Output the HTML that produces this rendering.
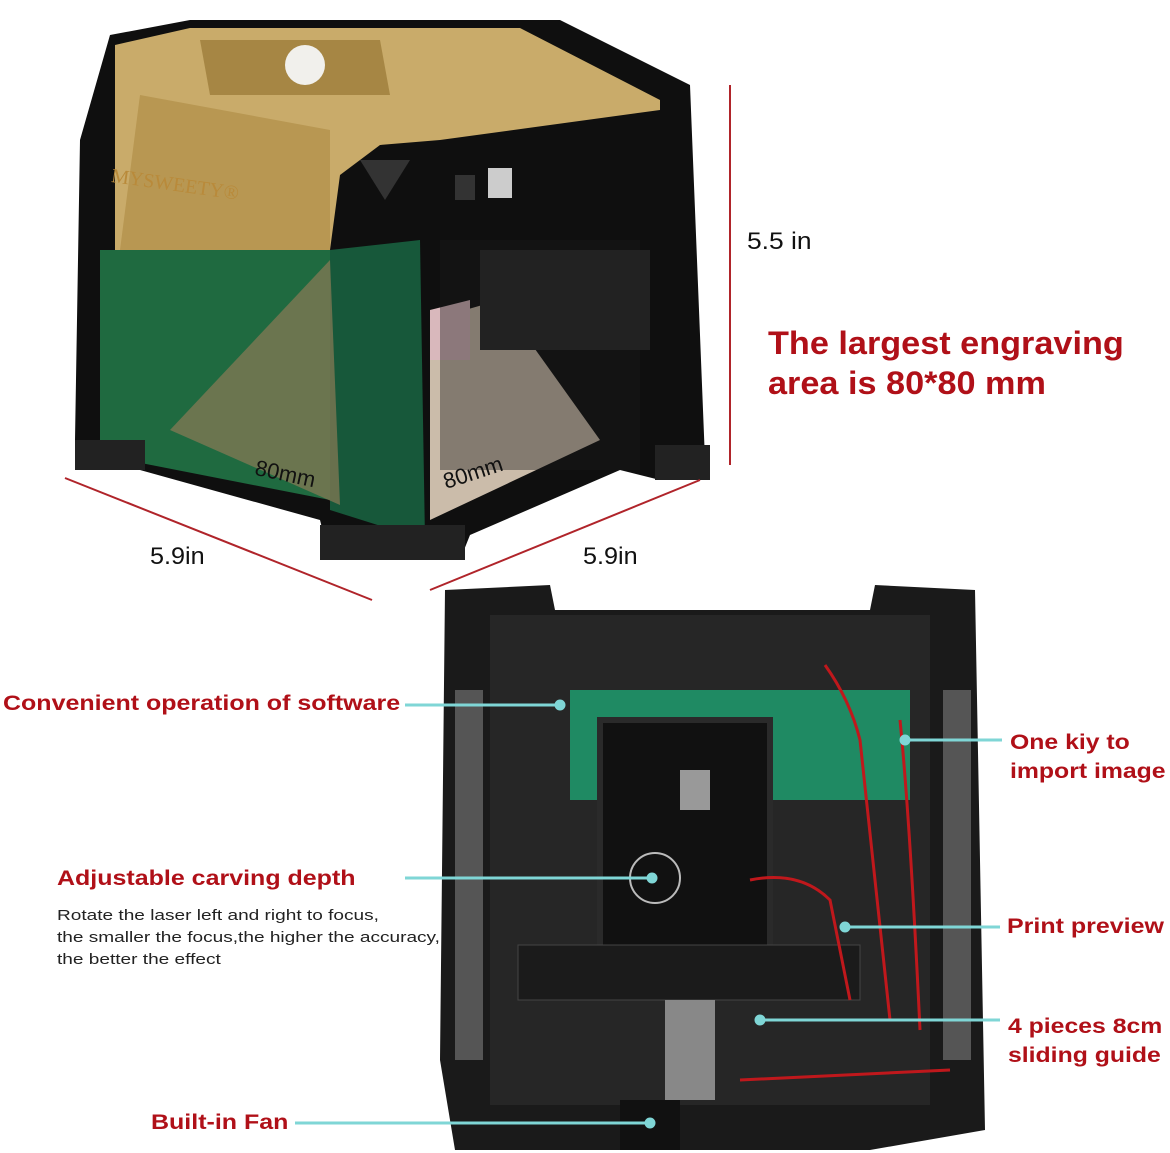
<!DOCTYPE html>
<html><head><meta charset="utf-8"><style>
body{margin:0;width:1170px;height:1153px;background:#fff;overflow:hidden;position:relative;font-family:"Liberation Sans",Arial,sans-serif}
.t{position:absolute;white-space:nowrap;transform-origin:0 0}
.r{color:#b01018;font-weight:bold}
</style></head><body>
<svg width="1170" height="1153" style="position:absolute;left:0;top:0">
<polygon points="110,35 190,20 560,20 690,85 705,460 660,480 620,470 470,535 460,560 330,560 320,520 140,470 85,470 75,440 80,140" fill="#0f0f0f"/>
<polygon points="115,45 190,28 520,28 660,100 660,110 440,140 380,145 340,175 330,250 115,250" fill="#c9ab6a"/>
<polygon points="140,95 330,130 330,250 120,250" fill="#b89752"/>
<polygon points="200,40 380,40 390,95 210,95" fill="#a68644"/>
<circle cx="305" cy="65" r="20" fill="#f1f0ec"/>
<polygon points="100,250 330,250 330,500 100,455" fill="#1f6a40"/>
<polygon points="330,250 420,240 425,540 330,510" fill="#17583a"/>
<polygon points="170,430 330,260 340,505" fill="#8c7a55" opacity=".7"/>
<polygon points="430,320 500,300 600,440 430,520" fill="#cbbcaa"/>
<polygon points="430,310 470,300 470,360 430,360" fill="#d9b8bc"/>
<rect x="440" y="240" width="200" height="230" fill="#1a1a1a" opacity=".4"/>
<rect x="480" y="250" width="170" height="100" fill="#222"/>
<polygon points="360,160 410,160 385,200" fill="#333"/>
<rect x="455" y="175" width="20" height="25" fill="#333"/>
<rect x="488" y="168" width="24" height="30" fill="#ccc"/>
<rect x="320" y="525" width="145" height="35" fill="#222"/>
<rect x="75" y="440" width="70" height="30" fill="#222"/>
<rect x="655" y="445" width="55" height="35" fill="#222"/>
<g stroke="#b0242a" stroke-width="2">
<line x1="730" y1="85" x2="730" y2="465"/>
<line x1="65" y1="478" x2="372" y2="600"/>
<line x1="430" y1="590" x2="700" y2="480"/>
</g>
<polygon points="445,590 550,585 555,610 870,610 875,585 975,590 985,1130 870,1150 455,1150 440,1060" fill="#1a1a1a"/>
<rect x="490" y="615" width="440" height="490" fill="#262626"/>
<rect x="455" y="690" width="28" height="370" fill="#555"/>
<rect x="943" y="690" width="28" height="370" fill="#555"/>
<rect x="570" y="690" width="340" height="110" fill="#1f8a63"/>
<rect x="600" y="720" width="170" height="245" fill="#111" stroke="#2a2a2a" stroke-width="6"/>
<circle cx="655" cy="878" r="25" fill="#111" stroke="#bbb" stroke-width="2"/>
<rect x="680" y="770" width="30" height="40" fill="#999"/>
<polygon points="518,945 860,945 860,1000 518,1000" fill="#1b1b1b" stroke="#444"/>
<rect x="665" y="1000" width="50" height="100" fill="#888"/>
<rect x="620" y="1100" width="60" height="50" fill="#111"/>
<g stroke="#c0181c" stroke-width="3" fill="none">
<path d="M825 665 Q850 700 860 740 L890 1020"/>
<path d="M900 720 Q910 820 920 1030"/>
<path d="M750 880 Q800 870 830 900 L850 1000"/>
<path d="M740 1080 L950 1070"/>
</g>
<g stroke="#7fd6d6" stroke-width="3">
<line x1="405" y1="705" x2="560" y2="705"/><circle cx="560" cy="705" r="4" fill="#7fd6d6"/>
<line x1="905" y1="740" x2="1002" y2="740"/><circle cx="905" cy="740" r="4" fill="#7fd6d6"/>
<line x1="405" y1="878" x2="652" y2="878"/><circle cx="652" cy="878" r="4" fill="#7fd6d6"/>
<line x1="845" y1="927" x2="1000" y2="927"/><circle cx="845" cy="927" r="4" fill="#7fd6d6"/>
<line x1="760" y1="1020" x2="1000" y2="1020"/><circle cx="760" cy="1020" r="4" fill="#7fd6d6"/>
<line x1="295" y1="1123" x2="650" y2="1123"/><circle cx="650" cy="1123" r="4" fill="#7fd6d6"/>
</g>
</svg>
<div class="t" style="left:113px;top:165px;color:#b98a3a;font-family:'Liberation Serif',serif;font-size:20px;transform:rotate(8deg)">MYSWEETY®</div>
<div class="t" style="left:258px;top:455px;font-size:22px;color:#111;transform:rotate(12deg)">80mm</div>
<div class="t" style="left:440px;top:470px;font-size:22px;color:#111;transform:rotate(-18deg)">80mm</div>
<div class="t" style="left:747px;top:228px;font-size:24px;color:#111;transform:scaleX(1.1)">5.5 in</div>
<div class="t r" style="left:768px;top:323px;font-size:32px;line-height:40px;transform:scaleX(1.07)">The largest engraving<br>area is 80*80 mm</div>
<div class="t" style="left:150px;top:543px;font-size:24px;color:#111;transform:scaleX(1.05)">5.9in</div>
<div class="t" style="left:583px;top:543px;font-size:24px;color:#111;transform:scaleX(1.05)">5.9in</div>
<div class="t r" style="left:3px;top:692px;font-size:21px;transform:scaleX(1.19)">Convenient operation of software</div>
<div class="t r" style="left:1010px;top:728px;font-size:21px;line-height:29px;transform:scaleX(1.18)">One kiy to<br>import image</div>
<div class="t r" style="left:57px;top:867px;font-size:21px;transform:scaleX(1.19)">Adjustable carving depth</div>
<div class="t" style="left:57px;top:905px;font-size:15px;line-height:22px;color:#222;transform:scaleX(1.27)">Rotate the laser left and right to focus,<br>the smaller the focus,the higher the accuracy,<br>the better the effect</div>
<div class="t r" style="left:1007px;top:915px;font-size:21px;transform:scaleX(1.19)">Print preview</div>
<div class="t r" style="left:1008px;top:1012px;font-size:21px;line-height:29px;transform:scaleX(1.18)">4 pieces 8cm<br>sliding guide</div>
<div class="t r" style="left:151px;top:1111px;font-size:21px;transform:scaleX(1.19)">Built-in Fan</div>
</body></html>
